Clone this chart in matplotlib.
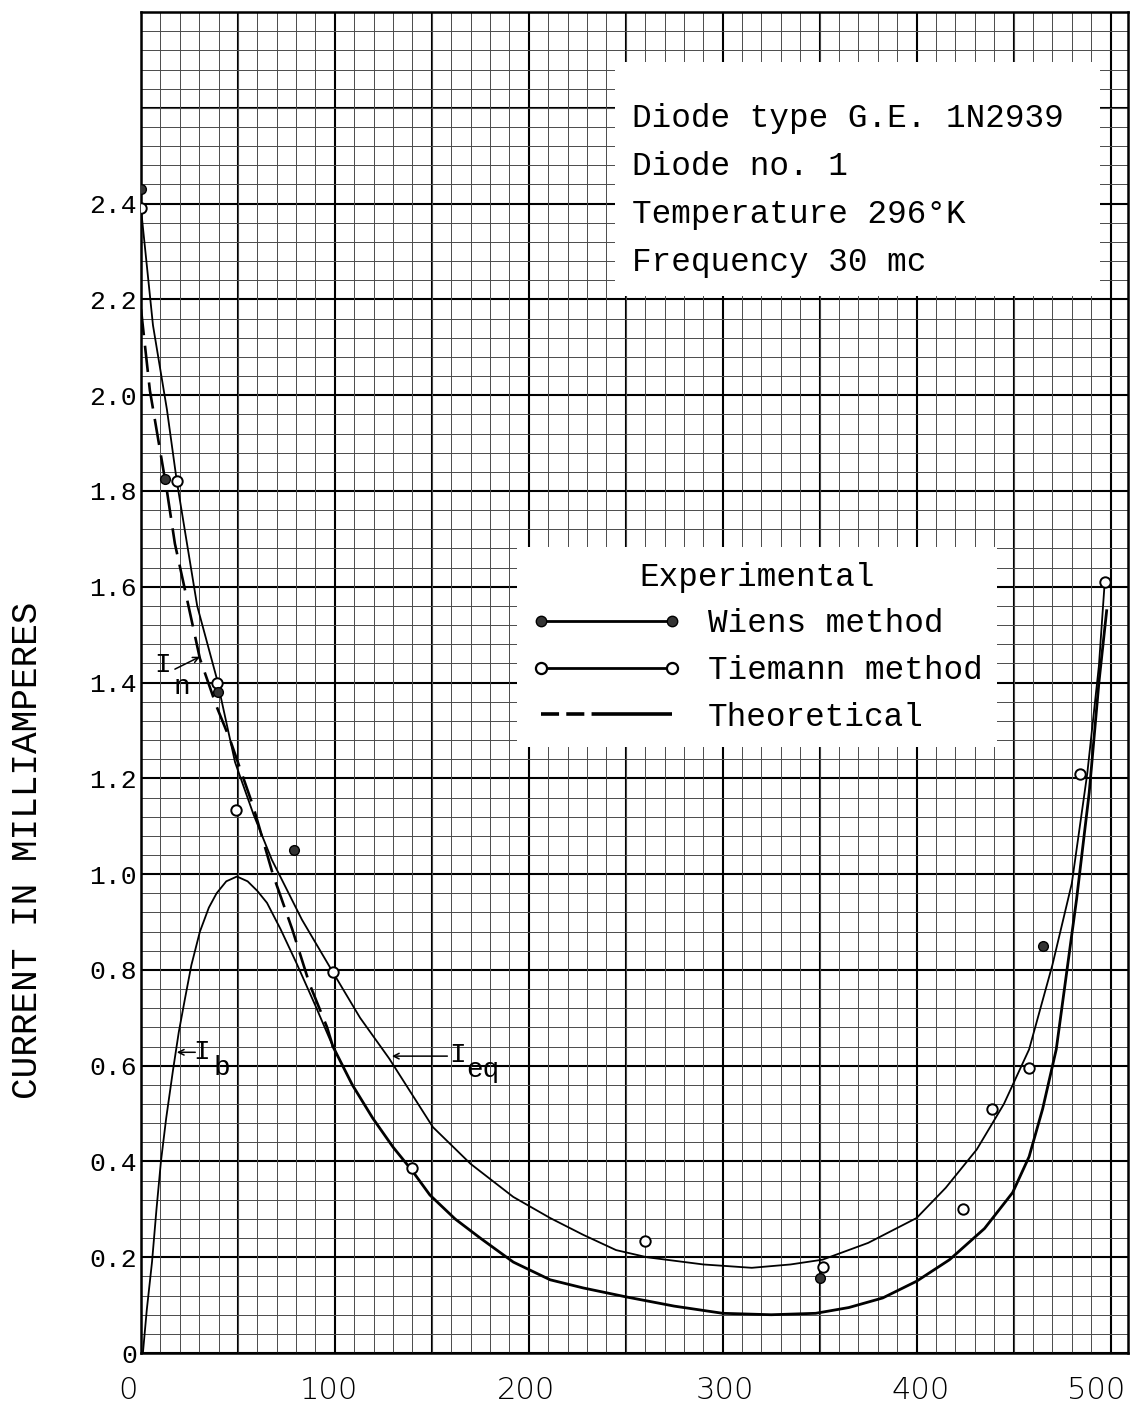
import matplotlib
matplotlib.use('Agg')

import matplotlib.pyplot as plt
import matplotlib.transforms as mtransforms
from matplotlib.patches import Rectangle
from matplotlib.lines import Line2D
from matplotlib.ticker import MultipleLocator

MONO = 'Liberation Mono'

# experimental points
wiens_x = [0, 12.4, 39.7, 79, 350, 465]
wiens_y = [2.43, 1.826, 1.38, 1.05, 0.157, 0.85]

tiemann_x = [0, 18.5, 39, 49, 99, 140, 260, 351.5, 424, 439, 458, 484, 497]
tiemann_y = [2.39, 1.82, 1.40, 1.134, 0.795, 0.387, 0.234, 0.18, 0.30, 0.51, 0.596, 1.21, 1.61]

# I_eq curve (drawn through the Tiemann points)
ieq_x = [0, 6.2, 13.4, 18.5, 29, 39, 48.5, 58, 67.5, 83, 99, 113, 128, 150.5, 170, 192, 211, 228,
         245, 261, 290, 315, 335, 351.5, 375, 400, 415, 431, 445, 458, 470, 480, 488, 494, 497]
ieq_y = [2.39, 2.146, 1.97, 1.82, 1.56, 1.41, 1.234, 1.125, 1.03, 0.905, 0.795, 0.70, 0.615, 0.472,
         0.395, 0.326, 0.282, 0.247, 0.215, 0.20, 0.185, 0.178, 0.185, 0.195, 0.23, 0.282, 0.345,
         0.425, 0.52, 0.634, 0.81, 0.98, 1.21, 1.435, 1.61]

# theoretical: dashed part (I_n) then solid part
theo_dash_x = [0, 4.6, 8.8, 13.4, 17.5, 23.7, 30.4, 39, 46, 58, 68, 78, 87, 96, 99]
theo_dash_y = [2.18, 2.01, 1.91, 1.80, 1.69, 1.575, 1.45, 1.35, 1.28, 1.14, 1.0, 0.885, 0.77, 0.68, 0.64]
theo_x = [99, 109, 119.6, 130, 140, 149, 162, 175, 192, 211, 228, 250.5, 275, 300, 325, 348, 365,
          382.5, 400, 417, 435, 449.5, 458, 465, 472, 482.5, 489, 494, 498]
theo_y = [0.64, 0.56, 0.49, 0.43, 0.38, 0.33, 0.28, 0.24, 0.19, 0.153, 0.136, 0.117, 0.098, 0.083,
          0.080, 0.083, 0.095, 0.115, 0.15, 0.195, 0.26, 0.335, 0.41, 0.51, 0.634, 0.948, 1.17, 1.40, 1.55]

# I_b curve
ib_x = [1, 3, 5.7, 8, 10.3, 13, 16.5, 19.5, 22.7, 26, 30.4, 35, 39, 44, 49.5, 55, 60, 65, 72, 80, 90, 99]
ib_y = [0, 0.09, 0.19, 0.30, 0.40, 0.49, 0.59, 0.67, 0.74, 0.81, 0.88, 0.93, 0.96, 0.985, 0.995,
        0.985, 0.965, 0.94, 0.885, 0.816, 0.725, 0.64]

xticks = [0, 100, 200, 300, 400, 500]
xtick_shift = [-13, -6, -3, 2, 4, -14]   # hand lettering sits a little off the lines (px)
yticks = [0, 0.2, 0.4, 0.6, 0.8, 1.0, 1.2, 1.4, 1.6, 1.8, 2.0, 2.2, 2.4]
ytick_labels = ['0'] + ['%.1f' % v for v in yticks[1:]]

info_lines = ['Diode type G.E. 1N2939', 'Diode no. 1', 'Temperature 296\u00b0K', 'Frequency 30 mc']

fig = plt.figure(figsize=(11.34, 14.03), dpi=100)
ax = fig.add_axes([0.1243, 0.0356, 0.8704, 0.9558])
ax.set_xlim(0, 509)
ax.set_ylim(0, 2.8)

# graph paper
ax.xaxis.set_minor_locator(MultipleLocator(10))
ax.yaxis.set_minor_locator(MultipleLocator(0.04))
ax.set_xticks(xticks)
ax.set_yticks(yticks)
ax.grid(which='minor', color='#4a4a4a', lw=0.7, zorder=0)
for v in range(0, 510, 50):
    ax.axvline(v, color='black', lw=1.5, zorder=0.5)
for v in [0.2 * i for i in range(15)]:
    ax.axhline(v, color='black', lw=1.5, zorder=0.5)
ax.set_axisbelow(True)
for s in ax.spines.values():
    s.set_linewidth(1.8)

ax.tick_params(which='both', length=0)
ax.set_xticklabels([])
xlab_trans = mtransforms.blended_transform_factory(ax.transData, ax.transAxes)
for v, dx in zip(xticks, xtick_shift):
    off = mtransforms.ScaledTranslation(dx / 100, -37 / 100, fig.dpi_scale_trans)
    ax.text(v, 0, str(v), transform=xlab_trans + off, fontfamily='DejaVu Sans', fontsize=22,
            fontweight='light', ha='center', va='center')
ax.set_yticklabels(ytick_labels, fontfamily=MONO, fontsize=19)
ax.tick_params(axis='y', pad=3)
ax.set_ylabel('CURRENT IN MILLIAMPERES', fontfamily=MONO, fontsize=26)
ax.yaxis.set_label_coords(-0.097, 0.375)

# curves
ax.plot(ieq_x, ieq_y, color='black', lw=1.3, zorder=3)
ax.plot(theo_dash_x, theo_dash_y, color='black', lw=1.9, linestyle=(0, (10, 4)), zorder=3)
ax.plot(theo_x, theo_y, color='black', lw=2.0, zorder=3)
ax.plot(ib_x, ib_y, color='black', lw=1.3, zorder=3)

ax.plot(tiemann_x, tiemann_y, 'o', ms=7.5, mfc='white', mec='black', mew=1.4, zorder=4)
ax.plot(wiens_x, wiens_y, 'o', ms=7, mfc='#333333', mec='black', mew=1.0, zorder=4)

# curve labels
arrow = dict(arrowstyle='->', color='black', lw=1.1, shrinkA=0, shrinkB=0)
ax.annotate('', xy=(30.4, 1.454), xytext=(17.5, 1.428), arrowprops=arrow, zorder=5)
ax.text(11.3, 1.437, 'I', fontfamily=MONO, fontsize=20, ha='center', va='center')
ax.text(21, 1.390, 'n', fontfamily=MONO, fontsize=20, ha='center', va='center')

ax.annotate('', xy=(18.5, 0.628), xytext=(28, 0.628), arrowprops=arrow, zorder=5)
ax.text(31.4, 0.628, 'I', fontfamily=MONO, fontsize=20, ha='center', va='center')
ax.text(41.7, 0.596, 'b', fontfamily=MONO, fontsize=20, ha='center', va='center')

ax.annotate('', xy=(129.4, 0.62), xytext=(158, 0.62), arrowprops=arrow, zorder=5)
ax.text(163.4, 0.623, 'I', fontfamily=MONO, fontsize=20, ha='center', va='center')
ax.text(167.5, 0.59, 'eq', fontfamily=MONO, fontsize=20, ha='left', va='center')

# info box
ax.add_patch(Rectangle((0.480, 0.788), 0.492, 0.175, transform=ax.transAxes,
                       fc='white', ec='none', zorder=2))
for i, line in enumerate(info_lines):
    ax.text(0.497, 0.921 - i * 0.0358, line, transform=ax.transAxes, fontfamily=MONO,
            fontsize=23.5, ha='left', va='center', zorder=6)

# legend
handles = [
    Line2D([], [], color='black', lw=2.0, marker='o', ms=7.5, mfc='#333333', mec='black'),
    Line2D([], [], color='black', lw=2.0, marker='o', ms=8, mfc='white', mec='black', mew=1.6),
    Line2D([], [], color='black', lw=2.6, linestyle=(0, (5, 2, 5, 2, 30, 0))),
]
leg = ax.legend(handles, ['Wiens method', 'Tiemann method', 'Theoretical'],
                title='Experimental', loc='upper left', bbox_to_anchor=(0.381, 0.601),
                borderaxespad=0, borderpad=0.45, frameon=True, fancybox=False,
                edgecolor='none', facecolor='white', framealpha=1,
                handlelength=4.6, handletextpad=0.8, labelspacing=0.48, numpoints=2,
                prop={'family': MONO, 'size': 23.5})
leg.get_title().set_fontfamily(MONO)
leg.get_title().set_fontsize(23.5)
leg.set_zorder(6)

fig.savefig('out.png', dpi=100)
